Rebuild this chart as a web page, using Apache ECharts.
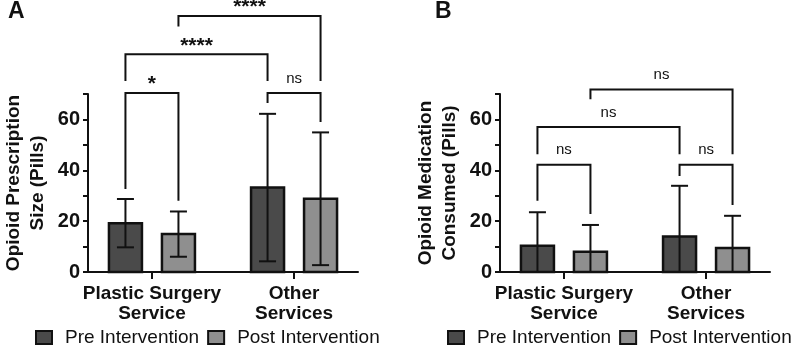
<!DOCTYPE html>
<html>
<head>
<meta charset="utf-8">
<script src="https://cdn.jsdelivr.net/npm/echarts@6/dist/echarts.min.js"></script>
<style>
  html, body { margin: 0; padding: 0; background: #fff; }
  #chart { width: 800px; height: 348px; }
</style>
</head>
<body>
<div id="chart"></div>
<script>
// categories and groups
const categories = ['Plastic Surgery\nService', 'Other\nServices'];
const groups = ['Pre Intervention', 'Post Intervention'];
const yTickLabels = [0, 20, 40, 60];

// A: opioid prescription size (pills), mean and SD per category
const prescPreMean = [19.2, 33.2];
const prescPreSD = [9.5, 29.0];
const prescPostMean = [14.9, 28.8];
const prescPostSD = [8.9, 26.1];

// B: opioid medication consumed (pills)
const consPreMean = [10.3, 14.0];
const consPreSD = [13.2, 19.9];
const consPostMean = [8.0, 9.4];
const consPostSD = [10.5, 12.7];

// brackets: [left bar, right bar, top, left foot, right foot]
// bars: 0 = PS pre, 1 = PS post, 2 = Other pre, 3 = Other post
const prescBrackets = [[0, 1, 70.4, 32.6, 28.0], [2, 3, 70.4, 66.5, 59.0], [0, 2, 85.6, 75.1, 75.1], [1, 3, 100.7, 96.5, 75.1]];
const prescSig = ['*', 'ns', '****', '****'];
const consBrackets = [[0, 1, 42.2, 28.0, 22.8], [2, 3, 42.2, 37.8, 26.3], [0, 2, 57.0, 46.3, 46.3], [1, 3, 71.8, 67.9, 46.3]];
const consSig = ['ns', 'ns', 'ns', 'ns'];

const FONT = "'Liberation Sans', Arial, sans-serif";
const INK = '#111';
const DARK = '#4a4a4a';
const LIGHT = '#8f8f8f';
const BAR_W = 33;
const BAR_OFFSET = 26.5;
const CAP = 8.5;

function barSeries(name, idx, color, side, means, sds) {
  return {
    name: name,
    type: 'custom',
    xAxisIndex: idx,
    yAxisIndex: idx,
    itemStyle: { color: color, borderColor: INK, borderWidth: 2 },
    data: means.map((m, i) => [i, m, sds[i]]),
    renderItem: function (params, api) {
      const cat = api.value(0), mean = api.value(1), sd = api.value(2);
      const base = api.coord([cat, 0]);
      const cx = base[0] + side * BAR_OFFSET;
      const top = api.coord([cat, mean])[1];
      const hi = api.coord([cat, mean + sd])[1];
      const lo = api.coord([cat, Math.max(0, mean - sd)])[1];
      const lineStyle = { stroke: INK, lineWidth: 2 };
      const children = [
        { type: 'rect', shape: { x: cx - BAR_W / 2, y: top, width: BAR_W, height: base[1] - top },
          style: { fill: color, stroke: INK, lineWidth: 2.5 } },
        { type: 'line', shape: { x1: cx, y1: hi, x2: cx, y2: lo }, style: lineStyle },
        { type: 'line', shape: { x1: cx - CAP, y1: hi, x2: cx + CAP, y2: hi }, style: lineStyle }
      ];
      if (mean - sd > 0) {
        children.push({ type: 'line', shape: { x1: cx - CAP, y1: lo, x2: cx + CAP, y2: lo }, style: lineStyle });
      }
      return { type: 'group', children: children };
    }
  };
}

function barX(api, bar) {
  const cat = Math.floor(bar / 2);
  const side = bar % 2 ? 1 : -1;
  return api.coord([cat, 0])[0] + side * BAR_OFFSET;
}

function bracketSeries(idx, brackets, sig) {
  return {
    type: 'custom',
    xAxisIndex: idx,
    yAxisIndex: idx,
    silent: true,
    data: brackets,
    renderItem: function (params, api) {
      const xl = barX(api, api.value(0));
      const xr = barX(api, api.value(1));
      const yt = api.coord([0, api.value(2)])[1];
      const yl = api.coord([0, api.value(3)])[1];
      const yr = api.coord([0, api.value(4)])[1];
      const label = sig[params.dataIndex];
      const stars = label.indexOf('*') >= 0;
      return {
        type: 'group',
        children: [
          { type: 'polyline', shape: { points: [[xl, yl], [xl, yt], [xr, yt], [xr, yr]] },
            style: { stroke: INK, lineWidth: 2, fill: null } },
          { type: 'text', x: (xl + xr) / 2, y: yt - (stars ? 8.5 : 14.4),
            style: { text: label, fill: INK, align: 'center', verticalAlign: 'middle',
              font: stars ? 'bold 21px ' + FONT : '15px ' + FONT } }
        ]
      };
    }
  };
}

function xAxis(idx) {
  return {
    type: 'value', gridIndex: idx, min: -0.45, max: 1.45,
    axisLine: { onZero: false, lineStyle: { color: INK, width: 2 } },
    axisTick: { show: true, customValues: [0, 1], length: 7, lineStyle: { color: INK, width: 2 } },
    axisLabel: {
      customValues: [0, 1], margin: 12,
      formatter: v => categories[Math.round(v)] || '',
      color: INK, fontFamily: FONT, fontSize: 19, fontWeight: 'bold', lineHeight: 20
    },
    splitLine: { show: false }
  };
}

function yAxis(idx, title) {
  return {
    type: 'value', gridIndex: idx, min: 0, max: 70, interval: 10,
    name: title, nameLocation: 'middle', nameRotate: 90, nameGap: 38,
    nameTextStyle: { color: INK, fontFamily: FONT, fontSize: 19, fontWeight: 'bold', lineHeight: 24 },
    axisLine: { show: true, onZero: false, lineStyle: { color: INK, width: 2 } },
    axisTick: { show: true, length: 5, lineStyle: { color: INK, width: 2 } },
    axisLabel: {
      margin: 8, color: INK, fontFamily: FONT, fontSize: 20, fontWeight: 'bold',
      formatter: v => yTickLabels.indexOf(v) >= 0 ? String(v) : ''
    },
    splitLine: { show: false }
  };
}

function legend(left) {
  return {
    left: left, top: 328, padding: 0, itemWidth: 16, itemHeight: 13, itemGap: 8,
    selectedMode: false,
    textStyle: { color: INK, fontFamily: FONT, fontSize: 19, padding: [0, 0, 0, 8] },
    data: [
      { name: groups[0], icon: 'rect', itemStyle: { color: DARK, borderColor: INK, borderWidth: 2 } },
      { name: groups[1], icon: 'rect', itemStyle: { color: LIGHT, borderColor: INK, borderWidth: 2 } }
    ]
  };
}

const chart = echarts.init(document.getElementById('chart'), null, { renderer: 'canvas' });
chart.setOption({
  animation: false,
  backgroundColor: '#fff',
  grid: [
    { left: 88, top: 94, width: 270, height: 178 },
    { left: 500, top: 94, width: 270, height: 178 }
  ],
  xAxis: [xAxis(0), xAxis(1)],
  yAxis: [
    yAxis(0, 'Opioid Prescription\nSize (Pills)'),
    yAxis(1, 'Opioid Medication\nConsumed (Pills)')
  ],
  legend: [legend(35), legend(447)],
  graphic: [
    { type: 'text', left: 8, top: 0, style: { text: 'A', font: 'bold 23px ' + FONT, fill: INK } },
    { type: 'text', left: 435, top: 0, style: { text: 'B', font: 'bold 23px ' + FONT, fill: INK } }
  ],
  series: [
    barSeries(groups[0], 0, DARK, -1, prescPreMean, prescPreSD),
    barSeries(groups[1], 0, LIGHT, 1, prescPostMean, prescPostSD),
    barSeries(groups[0], 1, DARK, -1, consPreMean, consPreSD),
    barSeries(groups[1], 1, LIGHT, 1, consPostMean, consPostSD),
    bracketSeries(0, prescBrackets, prescSig),
    bracketSeries(1, consBrackets, consSig)
  ]
});
</script>
</body>
</html>
